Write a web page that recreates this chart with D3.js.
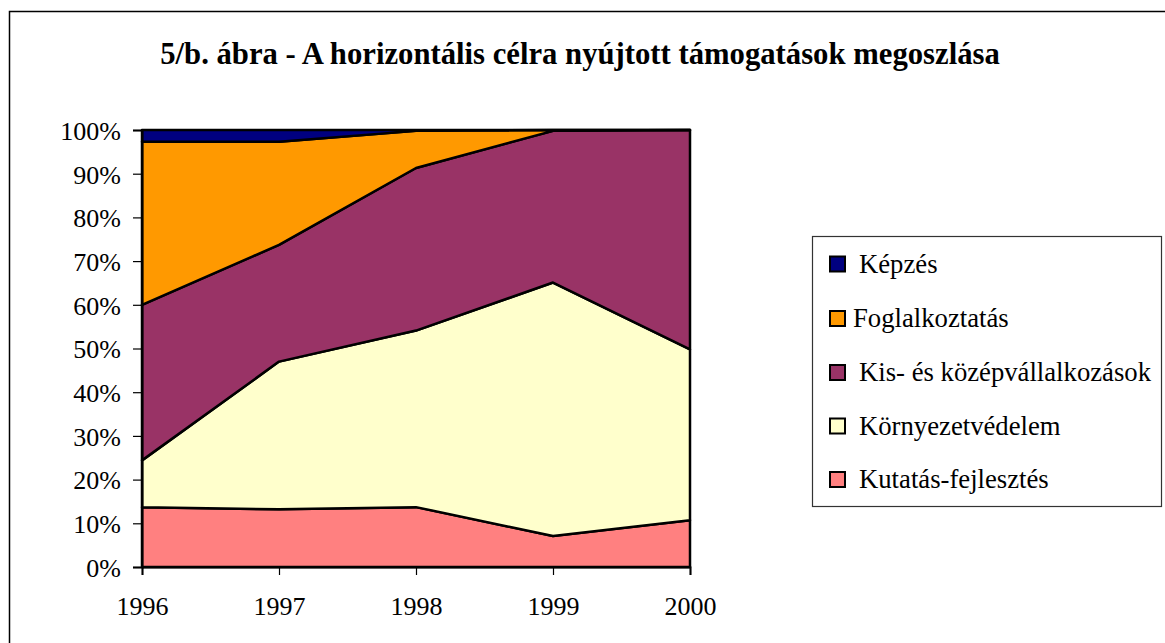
<!DOCTYPE html>
<html>
<head>
<meta charset="utf-8">
<script src="https://cdn.jsdelivr.net/npm/d3@7"></script>
<style>
  body { margin: 0; background: #fff; }
  svg text { font-family: "Liberation Serif", "Times New Roman", serif !important; }
</style>
</head>
<body>
<div id="chart"></div>
<script>
const width = 1165;
const height = 643;
const serif = "'Liberation Serif', 'Times New Roman', serif";

// adatok (százalék)
const years = [1996, 1997, 1998, 1999, 2000];
const kutatas = [13.7, 13.2, 13.7, 7.1, 10.7];
const kornyezet = [10.7, 33.8, 40.4, 58.0, 39.1];
const kkv = [35.6, 26.7, 37.2, 34.7, 50.2];
const foglalkoztatas = [37.3, 23.6, 8.5, 0.2, 0.0];
const kepzes = [2.7, 2.7, 0.2, 0.0, 0.0];
const seriesNames = ["Kutatás-fejlesztés", "Környezetvédelem", "Kis- és középvállalkozások", "Foglalkoztatás", "Képzés"];
const seriesColors = ["#ff8080", "#ffffcc", "#993366", "#ff9900", "#000080"];
const yTicks = [0, 10, 20, 30, 40, 50, 60, 70, 80, 90, 100];
const title = "5/b. ábra - A horizontális célra nyújtott támogatások megoszlása";

const keys = ["k0", "k1", "k2", "k3", "k4"];
const rows = years.map((y, i) => ({
    year: y, k0: kutatas[i], k1: kornyezet[i], k2: kkv[i], k3: foglalkoztatas[i], k4: kepzes[i]
}));

const svg = d3.select("#chart").append("svg")
    .attr("width", width)
    .attr("height", height);

// külső keret
svg.append("rect")
    .attr("x", 9.5).attr("y", 11.5)
    .attr("width", 1200).attr("height", 700)
    .style("fill", "none").style("stroke", "black").style("stroke-width", 1.5);

svg.append("text")
    .attr("x", 580).attr("y", 64)
    .attr("text-anchor", "middle")
    .style("font-family", serif)
    .style("font-size", "30.7px").style("font-weight", "bold")
    .text(title);

const x = d3.scaleLinear().domain([1996, 2000]).range([142, 690]);
const y = d3.scaleLinear().domain([0, 100]).range([567, 130]);

const stack = d3.stack().keys(keys);
const stacked = stack(rows);

const area = d3.area()
    .x(d => x(d.data.year))
    .y0(d => y(d[0]))
    .y1(d => y(Math.min(100, d[1])));

svg.append("g").selectAll("path")
    .data(stacked)
    .enter().append("path")
    .attr("d", area)
    .style("fill", (d, i) => seriesColors[i])
    .style("stroke", "black")
    .style("stroke-width", 2.5)
    .style("stroke-linejoin", "round");

// tengelyek
const yAxis = d3.axisLeft(y)
    .tickValues(yTicks)
    .tickSize(9)
    .tickPadding(12)
    .tickFormat(d => d + "%");

svg.append("g")
    .attr("transform", "translate(142,0)")
    .attr("font-family", null)
    .call(yAxis)
    .call(g => g.selectAll("text").style("font-family", serif).style("font-size", "26px").attr("dy", "0.36em"))
    .call(g => g.selectAll("line").style("stroke", "black").style("stroke-width", 1.2))
    .call(g => g.select("path").style("stroke", "black").style("stroke-width", 2));

const xAxis = d3.axisBottom(x)
    .tickValues(years)
    .tickSize(8)
    .tickPadding(22)
    .tickFormat(d3.format("d"));

svg.append("g")
    .attr("transform", "translate(0,567)")
    .call(xAxis)
    .call(g => g.selectAll("text").style("font-family", serif).style("font-size", "26px"))
    .call(g => g.selectAll("line").style("stroke", "black").style("stroke-width", 1.2))
    .call(g => g.select("path").style("stroke", "black").style("stroke-width", 2));

// jelmagyarázat
const legend = svg.append("g");
legend.append("rect")
    .attr("x", 812.5).attr("y", 236.5)
    .attr("width", 349).attr("height", 270)
    .style("fill", "white").style("stroke", "#333").style("stroke-width", 1.2);

const legendOrder = [4, 3, 2, 1, 0];
const legendY = [264, 318.5, 372.5, 426, 479.5];
const legendTextX = [859, 853, 859, 859, 859];

legend.selectAll("g.item")
    .data(legendOrder)
    .enter().append("g")
    .attr("class", "item")
    .each(function(si, j) {
        const g = d3.select(this);
        g.append("rect")
            .attr("x", 830).attr("y", legendY[j] - 7.5)
            .attr("width", 15).attr("height", 15)
            .style("fill", seriesColors[si])
            .style("stroke", "black").style("stroke-width", 2);
        g.append("text")
            .attr("x", legendTextX[j]).attr("y", legendY[j] + 8.5)
            .style("font-family", serif)
            .style("font-size", "26.7px")
            .text(seriesNames[si]);
    });
</script>
</body>
</html>
